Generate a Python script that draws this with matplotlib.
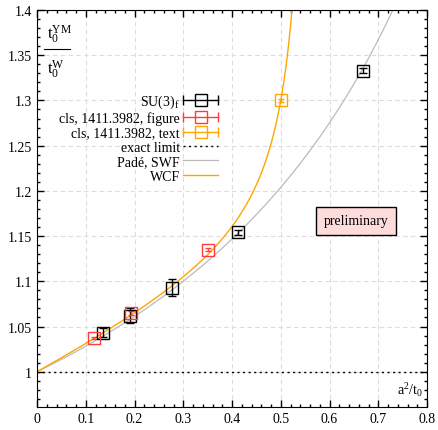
import numpy as np
import matplotlib
matplotlib.use("Agg")
from matplotlib import pyplot as plt
from matplotlib.lines import Line2D
from matplotlib.legend_handler import HandlerBase
from matplotlib.container import ErrorbarContainer
from matplotlib.ticker import MultipleLocator

plt.rcParams["font.family"] = ["Liberation Serif", "DejaVu Serif"]
plt.rcParams["mathtext.fontset"] = "custom"
plt.rcParams["mathtext.rm"] = "Liberation Serif"
plt.rcParams["mathtext.it"] = "Liberation Serif:italic"

# SU(3)_f data
su3_x = [0.135, 0.191, 0.277, 0.412, 0.669]
su3_y = [1.043, 1.062, 1.093, 1.154, 1.333]
su3_err = [0.005, 0.008, 0.009, 0.003, 0.003]

# cls, 1411.3982, figure
clsfig_x = [0.117, 0.193, 0.351]
clsfig_y = [1.0375, 1.065, 1.135]
clsfig_err = [0.001, 0.002, 0.002]

# cls, 1411.3982, text
clstxt_x = [0.5]
clstxt_y = [1.300]
clstxt_err = [0.002]

# Pade SWF: (1 + a x) / (1 - b x)
pade_a, pade_b = -0.453, 0.715
# WCF: 1 + c1 x + c2 x^2 / (1 - x / x0)
wcf_c1, wcf_c2, wcf_x0 = 0.304, 0.0727, 0.57

BLACK = "#000000"
RED = "#ff3b3b"
ORANGE = "#ffa500"
GRAY = "#bbbbbb"


class HandlerBarSquare(HandlerBase):
    def create_artists(self, legend, orig_handle, xdescent, ydescent,
                       width, height, fontsize, trans):
        color = orig_handle.lines[0].get_color()
        y = height / 2 - ydescent
        x0, x1 = -xdescent, width - xdescent
        bar = Line2D([x0, x1], [y, y], color=color, lw=1, transform=trans)
        caps = Line2D([x0, x1], [y, y], ls="none", marker="|", ms=7,
                      mew=1, color=color, transform=trans)
        sq = Line2D([(x0 + x1) / 2], [y], ls="none", marker="s", ms=8,
                    mfc="none", mec=color, mew=1, transform=trans)
        return [bar, caps, sq]


fig = plt.figure(figsize=(4.38, 4.31), dpi=100)
ax = fig.add_axes([0.0845, 0.0534, 0.8904, 0.921])

ax.set_xlim(0, 0.8)
ax.set_ylim(0.961, 1.4)
ax.xaxis.set_major_locator(MultipleLocator(0.1))
ax.xaxis.set_minor_locator(MultipleLocator(0.02))
ax.yaxis.set_major_locator(MultipleLocator(0.05))
ax.yaxis.set_minor_locator(MultipleLocator(0.01))
ax.tick_params(which="both", direction="in", top=True, right=True, labelsize=10)
ax.tick_params(which="major", length=5, width=1)
ax.tick_params(which="minor", length=2.5, width=1)
ax.xaxis.set_major_formatter(lambda v, p: f"{v:g}")
ax.yaxis.set_major_formatter(lambda v, p: f"{v:g}")
ax.grid(True, which="major", color="#dddddd", lw=0.8, ls=(0, (4, 3)))
ax.set_axisbelow(True)

x = np.linspace(0, 0.8, 1000)
pade = (1 + pade_a * x) / (1 - pade_b * x)
xw = x[x < wcf_x0 - 0.005]
wcf = 1 + wcf_c1 * xw + wcf_c2 * xw ** 2 / (1 - xw / wcf_x0)

h_su3 = ax.errorbar(su3_x, su3_y, yerr=su3_err, fmt="s", color=BLACK, ms=8,
                    mfc="none", mew=1, elinewidth=1, capsize=3, zorder=5)
h_fig = ax.errorbar(clsfig_x, clsfig_y, yerr=clsfig_err, fmt="s", color=RED, ms=8,
                    mfc="none", mew=1, elinewidth=1, capsize=2, zorder=5)
h_txt = ax.errorbar(clstxt_x, clstxt_y, yerr=clstxt_err, fmt="s", color=ORANGE, ms=8,
                    mfc="none", mew=1, elinewidth=1, capsize=2, zorder=5)
h_exact = ax.axhline(1.0, color=BLACK, lw=1, ls=(0, (1.5, 2.5)))
h_pade, = ax.plot(x, pade, color=GRAY, lw=0.9)
h_wcf, = ax.plot(xw, wcf, color=ORANGE, lw=1)

handles = [h_su3, h_fig, h_txt, h_exact, h_pade, h_wcf]
labels = [r"SU(3)$_\mathrm{f}$", "cls, 1411.3982, figure", "cls, 1411.3982, text",
          "exact limit", "Padé, SWF", "WCF"]
ax.legend(handles, labels, loc="upper right", bbox_to_anchor=(0.464, 0.792),
          frameon=False, markerfirst=False, fontsize=10, handlelength=2.5,
          handletextpad=0.25, labelspacing=0.1, borderpad=0, borderaxespad=0,
          handler_map={ErrorbarContainer: HandlerBarSquare()})

# y label as a fraction in the upper left corner
ax.text(0.026, 0.912, r"t$_0^\mathrm{YM}$", transform=ax.transAxes, fontsize=12,
        ha="left", va="bottom")
ax.plot([0.018, 0.085], [0.902, 0.902], transform=ax.transAxes, color=BLACK, lw=0.8)
ax.text(0.026, 0.880, r"t$_0^\mathrm{W}$", transform=ax.transAxes, fontsize=12,
        ha="left", va="top")

ax.text(0.99, 0.022, r"a$^2$/t$_0$", transform=ax.transAxes, fontsize=10,
        ha="right", va="bottom")

ax.text(0.654, 1.167, "preliminary", fontsize=10, ha="center", va="center",
        bbox=dict(boxstyle="square,pad=0.55", fc="#ffdcdc", ec=BLACK, lw=1))

fig.savefig("out.png", dpi=100)
